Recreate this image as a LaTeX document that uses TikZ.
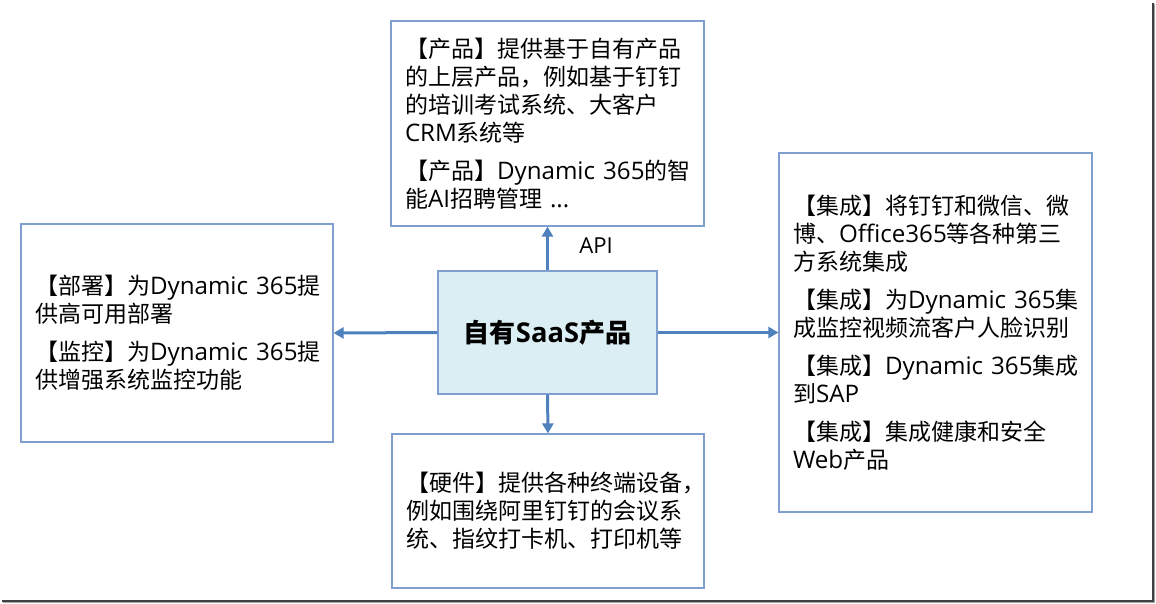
\documentclass[tikz,border=0pt]{standalone}
\usepackage{fontspec}
\setmainfont{Open Sans}[Scale=1.05]
\newfontfamily\cjkfont{Noto Sans CJK SC}
\usetikzlibrary{arrows.meta}
% automatic font switching between Latin and CJK runs
\XeTeXinterchartokenstate=1
\newXeTeXintercharclass\cjkcls
\makeatletter
\count@="3000
\loop \XeTeXcharclass\count@=\cjkcls \ifnum\count@<"303F \advance\count@ 1 \repeat
\count@="4E00
\loop \XeTeXcharclass\count@=\cjkcls \ifnum\count@<"9FFF \advance\count@ 1 \repeat
\count@="FF00
\loop \XeTeXcharclass\count@=\cjkcls \ifnum\count@<"FFEF \advance\count@ 1 \repeat
\makeatother
\XeTeXinterchartoks 0 \cjkcls = {\cjkfont}
\XeTeXinterchartoks 4095 \cjkcls = {\cjkfont}
\XeTeXinterchartoks \cjkcls 0 = {\rmfamily}
\XeTeXinterchartoks \cjkcls 4095 = {\rmfamily}
\definecolor{boxline}{HTML}{7F9FD0}
\definecolor{arrowblue}{HTML}{4F81BD}
\definecolor{centerfill}{HTML}{DAEEF3}
\tikzset{
  textbox/.style={draw=boxline, line width=1.2pt, align=left, inner sep=0pt,
    font=\fontsize{23}{28}\selectfont},
  centerbox/.style={draw=boxline, fill=centerfill, line width=1.2pt, inner sep=0pt,
    font=\fontsize{26}{30}\selectfont\bfseries},
  arr/.style={draw=arrowblue, line width=3pt, -{Triangle[length=10pt,width=11pt]}},
}
\begin{document}
\begin{tikzpicture}[x=1pt,y=-1pt]
\useasboundingbox (0,0) rectangle (1156,604);
\fill[white] (0,0) rectangle (1156,604);
% frame shadow
\draw[line width=2pt, black!75] (1152.5,3) -- (1152.5,600.5) -- (2,600.5);
\draw[line width=1.5pt, black!35] (1154.5,4) -- (1154.5,602.5) -- (3,602.5);

\node[textbox, text width=285pt, minimum width=313pt, minimum height=205pt] (top) at (547.5,123.5)
  {【产品】提供基于自有产品\\的上层产品，例如基于钉钉\\的培训考试系统、大客户\\CRM系统等\\[10pt]【产品】Dynamic~365的智\\能AI招聘管理~...};

\node[textbox, text width=284pt, minimum width=312pt, minimum height=218pt] (left) at (177,333)
  {【部署】为Dynamic~365提\\供高可用部署\\[10pt]【监控】为Dynamic~365提\\供增强系统监控功能};

\node[textbox, text width=285pt, minimum width=313pt, minimum height=359pt] (right) at (935.5,332.5)
  {【集成】将钉钉和微信、微\\博、Office365等各种第三\\方系统集成\\[10pt]【集成】为Dynamic~365集\\成监控视频流客户人脸识别\\[10pt]【集成】Dynamic~365集成\\到SAP\\[10pt]【集成】集成健康和安全\\Web产品};

\node[textbox, text width=284pt, minimum width=312pt, minimum height=154pt] (bottom) at (548,511)
  {【硬件】提供各种终端设备，\\例如围绕阿里钉钉的会议系\\统、指纹打卡机、打印机等};

\node[centerbox, minimum width=219pt, minimum height=123pt] (c) at (547.5,332.5) {自有SaaS产品};

\draw[arr] (c.north) -- (top.south);
\draw[arr] (c.south) -- (bottom.north);
\draw[arr] (c.west) -- (left.east);
\draw[arr] (c.east) -- (right.west);

\node[font=\fontsize{21}{24}\selectfont] (api) at (596,246) {API};
\end{tikzpicture}
\end{document}
